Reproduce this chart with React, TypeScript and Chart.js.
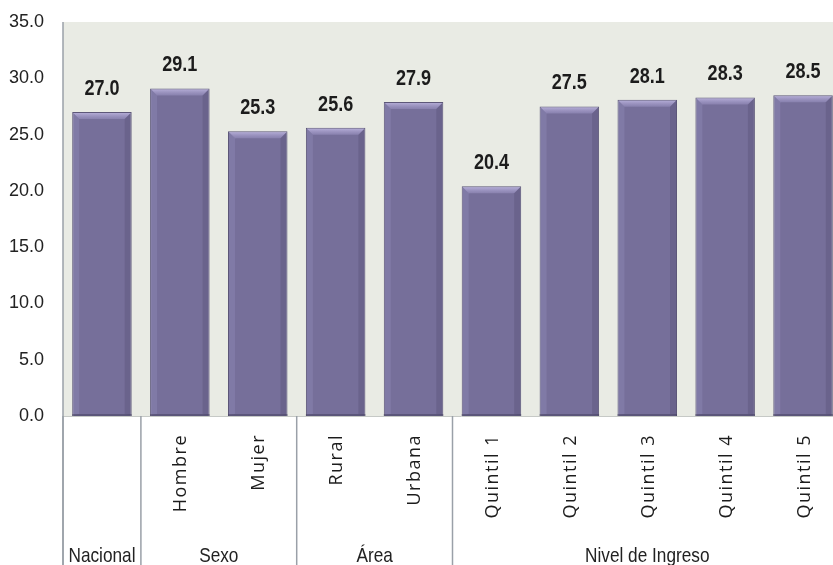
import React, { useEffect, useRef } from "react";
import { Chart, registerables } from "chart.js";

Chart.register(...registerables);

const categories = ["Nacional", "Hombre", "Mujer", "Rural", "Urbana", "Quintil 1", "Quintil 2", "Quintil 3", "Quintil 4", "Quintil 5"];
const rotatedLabels = ["", "Hombre", "Mujer", "Rural", "Urbana", "Quintil 1", "Quintil 2", "Quintil 3", "Quintil 4", "Quintil 5"];
const values = [27.0, 29.1, 25.3, 25.6, 27.9, 20.4, 27.5, 28.1, 28.3, 28.5];
const groupLabels = ["Nacional", "Sexo", "Área", "Nivel de Ingreso"];
const groupSizes = [1, 2, 2, 5];
const yMin = 0;
const yMax = 35;
const yStep = 5;

const BAR_FILL = "#766f9a";
const PLOT_BG = "#e9ebe4";
const LINE_GRAY = "#9aa0a8";
const NARROW = 0.82;

function narrowText(ctx: any, text: string, x: number, y: number) {
  ctx.save();
  ctx.translate(x, y);
  ctx.scale(NARROW, 1);
  ctx.fillText(text, 0, 0);
  ctx.restore();
}

const decorPlugin = {
  id: "decor",
  beforeDraw(chart: any) {
    const { ctx, chartArea } = chart;
    ctx.save();
    ctx.fillStyle = PLOT_BG;
    ctx.fillRect(chartArea.left, chartArea.top, chart.width - chartArea.left, chartArea.bottom - chartArea.top);
    ctx.restore();
  },
  afterDatasetsDraw(chart: any) {
    const { ctx, chartArea } = chart;
    const meta = chart.getDatasetMeta(0);
    const xs = chart.scales.x;
    // bevel overlay
    meta.data.forEach((bar: any) => {
      const w = bar.width;
      const l = bar.x - w / 2;
      const r = bar.x + w / 2;
      const t = bar.y;
      const b = bar.base;
      const bv = 7;
      ctx.save();
      const g = ctx.createLinearGradient(0, t, 0, t + bv);
      g.addColorStop(0, "rgba(205,197,238,0.8)");
      g.addColorStop(1, "rgba(165,157,205,0.4)");
      ctx.fillStyle = g;
      ctx.beginPath();
      ctx.moveTo(l + 1, t + 1);
      ctx.lineTo(r - 1, t + 1);
      ctx.lineTo(r - bv, t + bv);
      ctx.lineTo(l + bv, t + bv);
      ctx.closePath();
      ctx.fill();
      ctx.fillStyle = "rgba(150,142,190,0.35)";
      ctx.beginPath();
      ctx.moveTo(l + 1, t + 1);
      ctx.lineTo(l + bv, t + bv);
      ctx.lineTo(l + bv, b - 2);
      ctx.lineTo(l + 1, b - 1);
      ctx.closePath();
      ctx.fill();
      ctx.fillStyle = "rgba(70,64,100,0.25)";
      ctx.beginPath();
      ctx.moveTo(r - 1, t + 1);
      ctx.lineTo(r - bv, t + bv);
      ctx.lineTo(r - bv, b - 2);
      ctx.lineTo(r - 1, b - 1);
      ctx.closePath();
      ctx.fill();
      ctx.fillStyle = "rgba(60,55,85,0.45)";
      ctx.fillRect(l, b - 2, w, 2);
      ctx.restore();
    });

    // data labels
    ctx.save();
    ctx.font = "bold 22px 'Liberation Sans', sans-serif";
    ctx.fillStyle = "#1c1c1c";
    ctx.textAlign = "center";
    ctx.textBaseline = "alphabetic";
    meta.data.forEach((bar: any, i: number) => {
      narrowText(ctx, values[i].toFixed(1), bar.x, bar.y - 17);
    });
    ctx.restore();

    // bottom axis line
    ctx.save();
    ctx.strokeStyle = "#c6c9c6";
    ctx.lineWidth = 1;
    ctx.beginPath();
    ctx.moveTo(chartArea.left, chartArea.bottom + 0.5);
    ctx.lineTo(chart.width, chartArea.bottom + 0.5);
    ctx.stroke();
    ctx.restore();

    const step = xs.getPixelForValue(1) - xs.getPixelForValue(0);

    // left axis line
    ctx.save();
    ctx.strokeStyle = LINE_GRAY;
    ctx.lineWidth = 1.5;
    ctx.beginPath();
    ctx.moveTo(chartArea.left, chartArea.top);
    ctx.lineTo(chartArea.left, chart.height);
    ctx.stroke();

    // group separators and labels
    let start = 0;
    groupSizes.forEach((size, gi) => {
      const x0 = xs.getPixelForValue(start) - step / 2;
      const x1 = xs.getPixelForValue(start + size - 1) + step / 2;
      ctx.strokeStyle = LINE_GRAY;
      ctx.lineWidth = 1.5;
      ctx.beginPath();
      ctx.moveTo(x0, chartArea.bottom);
      ctx.lineTo(x0, chart.height);
      ctx.stroke();
      ctx.font = "21px 'Liberation Sans', sans-serif";
      ctx.fillStyle = "#222";
      ctx.textAlign = "center";
      ctx.textBaseline = "alphabetic";
      narrowText(ctx, groupLabels[gi], (x0 + x1) / 2, 562);
      start += size;
    });
    ctx.restore();

    // rotated category labels
    ctx.save();
    ctx.font = "18px 'Open Sans', sans-serif";
    (ctx as any).letterSpacing = "1.5px";
    ctx.fillStyle = "#1c1c1c";
    ctx.textAlign = "right";
    ctx.textBaseline = "alphabetic";
    rotatedLabels.forEach((lab, i) => {
      if (!lab) return;
      const cx = xs.getPixelForValue(i);
      ctx.save();
      ctx.translate(cx + 6.5, chartArea.bottom + 18);
      ctx.rotate(-Math.PI / 2);
      ctx.fillText(lab, 0, 0);
      ctx.restore();
    });
    ctx.restore();
  },
};

export default function App() {
  const ref = useRef<HTMLCanvasElement | null>(null);
  useEffect(() => {
    if (!ref.current) return;
    const chart = new Chart(ref.current, {
      type: "bar",
      data: {
        labels: categories,
        datasets: [
          {
            data: values,
            backgroundColor: BAR_FILL,
            borderColor: "#5d5779",
            borderWidth: 1,
            barPercentage: 0.764,
            categoryPercentage: 1,
          },
        ],
      },
      options: {
        animation: false,
        responsive: false,
        devicePixelRatio: 1,
        layout: { padding: { left: 0, right: 18, top: 22, bottom: 149 } },
        plugins: { legend: { display: false }, tooltip: { enabled: false } },
        scales: {
          x: { display: false, offset: true },
          y: {
            min: yMin,
            max: yMax,
            afterFit: (s: any) => {
              s.width = 63;
              s.paddingTop = 0;
              s.paddingBottom = 0;
            },
            grid: { display: false, drawTicks: false },
            border: { display: false },
            ticks: {
              stepSize: yStep,
              padding: 19,
              color: "#222",
              font: { family: "'Liberation Sans', sans-serif", size: 18 },
              callback: (v: any) => Number(v).toFixed(1),
            },
          },
        },
      },
      plugins: [decorPlugin],
    });
    return () => chart.destroy();
  }, []);
  return (
    <div style={{ position: "fixed", left: 0, top: 0, width: 833, height: 565, overflow: "hidden", background: "#fff" }}>
      <canvas ref={ref} width={860} height={565} style={{ display: "block" }} />
    </div>
  );
}
